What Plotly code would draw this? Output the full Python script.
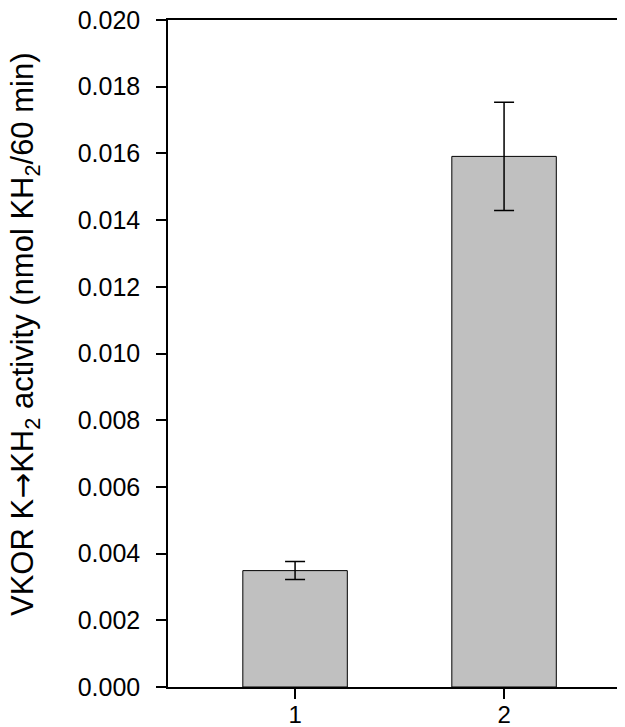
import plotly.graph_objects as go

categories = [1, 2]
values = [0.00349, 0.01591]
errors = [0.00027, 0.00162]
ytick_vals = [0.000, 0.002, 0.004, 0.006, 0.008, 0.010, 0.012, 0.014, 0.016, 0.018, 0.020]
ytick_text = ["0.000", "0.002", "0.004", "0.006", "0.008", "0.010", "0.012", "0.014", "0.016", "0.018", "0.020"]
ylabel = ("VKOR K<span style=\"font-family:'DejaVu Sans'\">\u2192</span>KH<sub>2</sub> "
          "activity (nmol KH<sub>2</sub>/60 min)")

W, H = 625, 727
L, R, T, B = 160, 5, 12, 48

fig = go.Figure()
fig.add_trace(go.Bar(
    x=categories, y=values, width=0.5,
    marker=dict(color="#c0c0c0", line=dict(color="black", width=1)),
    error_y=dict(type="data", array=errors, visible=True, color="black", thickness=1.5, width=10),
))

font = "Arial, Liberation Sans, sans-serif"
fig.update_layout(
    width=W, height=H,
    margin=dict(l=L, r=R, t=T, b=B, autoexpand=False),
    plot_bgcolor="white", paper_bgcolor="white",
    showlegend=False,
    font=dict(family=font, size=25, color="black"),
    xaxis=dict(range=[0.392, 2.593], tickvals=categories, ticktext=["1", "2"],
               showline=True, linecolor="black", linewidth=1.5, mirror=True,
               ticks="outside", ticklen=10, tickwidth=1.5, tickcolor="black",
               showgrid=False, zeroline=False, ticklabelstandoff=-5, automargin=False,
               ticklabeloverflow="allow", tickfont=dict(size=24)),
    yaxis=dict(range=[0, 0.020], tickvals=ytick_vals, ticktext=ytick_text,
               showline=True, linecolor="black", linewidth=1.5, mirror=True,
               ticks="outside", ticklen=10, tickwidth=1.5, tickcolor="black",
               showgrid=False, zeroline=False, ticklabelstandoff=11, automargin=False,
               ticklabeloverflow="allow", tickfont=dict(size=25)),
)

plot_w = W - L - R
plot_h = H - T - B
fig.add_annotation(
    text=ylabel, textangle=-90, showarrow=False,
    xref="paper", yref="paper",
    x=(16 - L) / plot_w, y=(H - B - 326) / plot_h,
    xanchor="center", yanchor="middle",
    font=dict(family=font, size=31, color="black"),
)

fig.write_html("out.html")
